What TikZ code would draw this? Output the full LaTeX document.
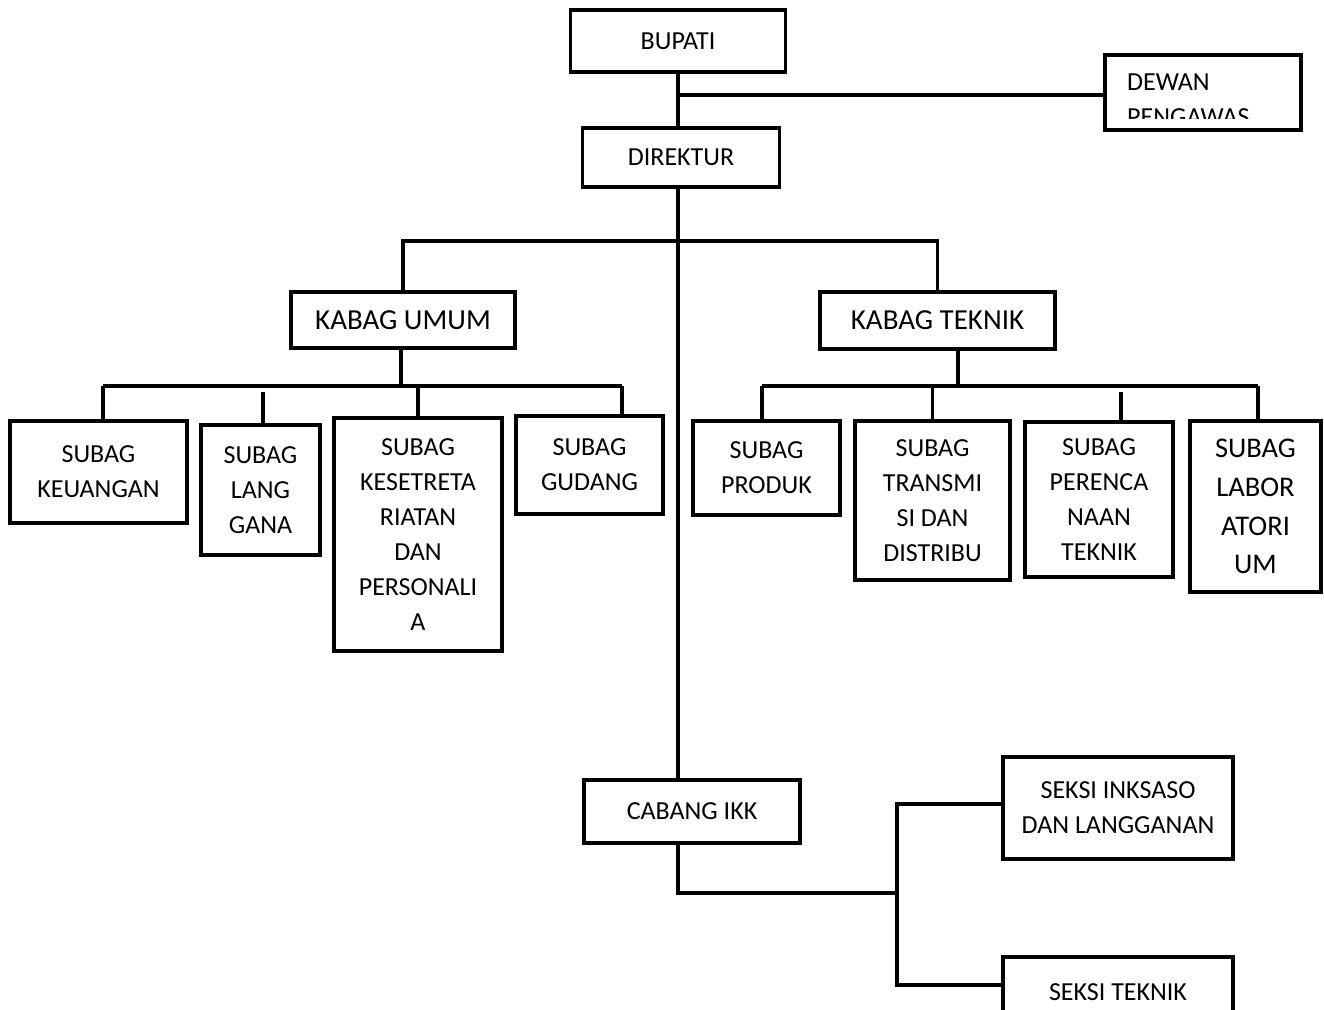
\documentclass[tikz,border=0pt]{standalone}
\usepackage{fontspec}
\setmainfont{Carlito}
\usetikzlibrary{positioning}

\begin{document}
\begin{tikzpicture}[x=1pt, y=-1pt,
    box/.style={rectangle, draw, line width=3.5pt, inner sep=0pt, align=center, font=\fontsize{26}{35}\selectfont},
    kabag/.style={box, font=\fontsize{29}{35}\selectfont},
    link/.style={line width=3.5pt}
]

\fill[white] (0,0) rectangle (1324,1009);
\clip (0,0) rectangle (1324,1009);

% Top
\node[box, minimum width=215, minimum height=62] (bupati) at (678,41) {BUPATI};
\node[box, minimum width=196, minimum height=75] (dewan) at (1203,92.5) {};
\node[box, minimum width=197, minimum height=59] (direktur) at (681,157.5) {DIREKTUR};
\begin{scope}
  \clip (1107,57) rectangle (1299,118);
  \node[anchor=base west, inner sep=0pt, font=\fontsize{26}{35}\selectfont] (dewanA) at (1127,90) {DEWAN};
  \node[anchor=base west, inner sep=0pt, font=\fontsize{26}{35}\selectfont] (dewanB) at (1127,125) {PENGAWAS};
\end{scope}

% Kabag
\node[kabag, minimum width=224, minimum height=56] (kumum) at (403,320) {KABAG UMUM};
\node[kabag, minimum width=235, minimum height=57] (kteknik) at (937.5,320.5) {KABAG TEKNIK};

% Subag umum
\node[box, minimum width=177, minimum height=102] (keuangan) at (98.5,472) {SUBAG\\KEUANGAN};
\node[box, minimum width=119, minimum height=130] (langgana) at (260.5,490) {SUBAG\\LANG\\GANA};
\node[box, minimum width=168, minimum height=233] (kesek) at (418,534.5) {SUBAG\\KESETRETA\\RIATAN\\DAN\\PERSONALI\\A};
\node[box, minimum width=147, minimum height=98] (gudang) at (589.5,465) {SUBAG\\GUDANG};

% Subag teknik
\node[box, minimum width=147, minimum height=94] (produk) at (766.5,468) {SUBAG\\PRODUK};
\node[box, minimum width=155, minimum height=159] (transmisi) at (932.5,500.5) {SUBAG\\TRANSMI\\SI DAN\\DISTRIBU};
\node[box, minimum width=148, minimum height=155] (perencanaan) at (1099,499.5) {SUBAG\\PERENCA\\NAAN\\TEKNIK};
\node[box, minimum width=131, minimum height=171, font=\fontsize{28.5}{38.7}\selectfont] (labor) at (1255.5,506.5) {SUBAG\\LABOR\\ATORI\\UM};

% Cabang
\node[box, minimum width=216, minimum height=63] (cabang) at (692,811.5) {CABANG IKK};
\node[box, minimum width=230, minimum height=102] (inksaso) at (1118,808) {SEKSI INKSASO\\DAN LANGGANAN};
\node[box, minimum width=230, minimum height=70] (steknik) at (1118,992) {SEKSI TEKNIK};

% Connections
\coordinate (trunk) at (678,95);
\draw[link] (bupati.south) -- (bupati.south |- direktur.north);
\draw[link] (trunk) -- (trunk -| dewan.west);
\draw[link] (direktur.south -| trunk) -- (cabang.north -| trunk);

\coordinate (kbar) at (678,241);
\draw[link] (kumum.north) |- (kbar) -| (kteknik.north);

% umum
\coordinate (ubar) at (401,386);
\coordinate (ul) at (103,386);
\coordinate (ur) at (622,386);
\coordinate (ug) at (263,392);
\draw[link] (kumum.south -| ubar) -- (ubar);
\draw[link] (ul) -- (ur);
\draw[link] (ul) -- (keuangan.north -| ul);
\draw[link] (ug) -- (langgana.north -| ug);
\draw[link] (ubar -| kesek.north) -- (kesek.north);
\draw[link] (ur) -- (gudang.north -| ur);

% teknik
\coordinate (tbar) at (958,386);
\coordinate (tl) at (762,386);
\coordinate (tr) at (1258,386);
\coordinate (tp) at (1121,392);
\draw[link] (kteknik.south -| tbar) -- (tbar);
\draw[link] (tl) -- (tr);
\draw[link] (tl) -- (produk.north -| tl);
\draw[link] (tbar -| transmisi.north) -- (transmisi.north);
\draw[link] (tp) -- (perencanaan.north -| tp);
\draw[link] (tr) -- (labor.north -| tr);

% cabang
\coordinate (ct) at (678,893);
\coordinate (sa) at (897,804);
\coordinate (sb) at (897,985);
\draw[link] (cabang.south -| ct) -- (ct) -- (ct -| sa);
\draw[link] (sa -| inksaso.west) -- (sa) -- (sb) -- (sb -| steknik.west);

\end{tikzpicture}
\end{document}
